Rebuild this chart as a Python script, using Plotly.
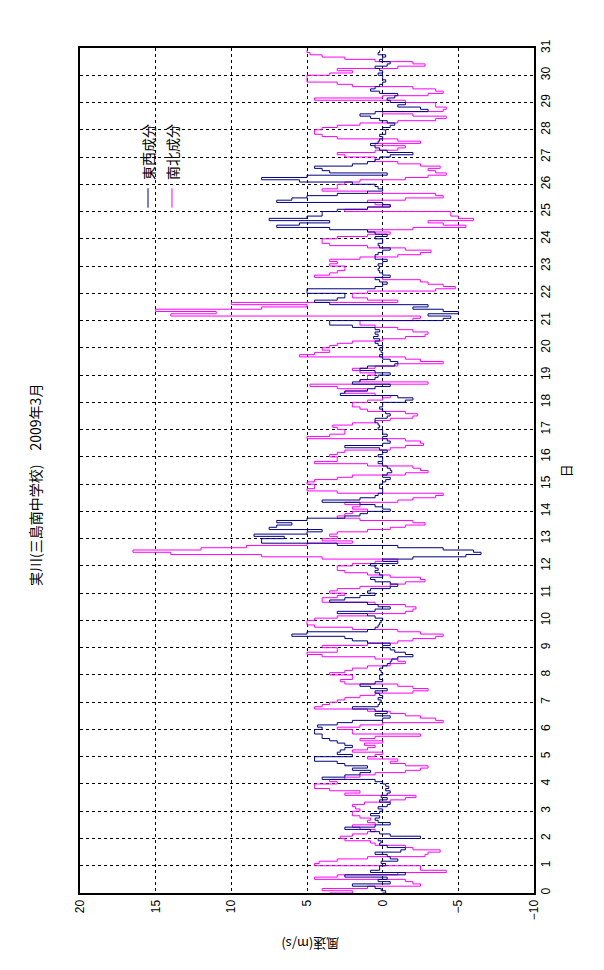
import numpy as np
import plotly.graph_objects as go

# Samples every 2 hours (12 per day), March 2009, wind components in m/s
ew_by_day = [
    [0, -0.2, 0.1, 0.5, 2.0, -0.5, 0.3, -0.3, 2.5, -1.5, 0.8, 0.2],
    [0.2, -0.2, 0.1, -1.0, -0.5, -0.3, 0.5, -1.2, -1.5, -0.3, 0.2, 0.1],
    [0.3, -2.5, -0.5, 0.2, 0.8, 2.5, 0.5, -0.5, 0.3, 0.5, 0.2, 0.8],
    [0.2, 0.0, 0.3, -0.3, -0.5, 0.2, -0.3, 0.1, -0.3, -0.5, -0.2, -0.4],
    [-0.2, 0.0, 0.5, 4.0, 2.5, 1.5, 0.8, 2.0, 1.0, 2.5, 3.0, 4.5],
    [4.5, 2.0, 3.0, 2.8, 2.5, 2.0, 2.5, 3.0, 3.5, 4.0, 4.0, 4.5],
    [4.5, 4.0, 4.3, 3.0, 2.0, 0.0, -0.5, 0.5, -0.3, 0.5, 2.0, 0.3],
    [0.2, 0.1, 0.3, 0.0, 0.2, 0.5, -0.3, 0.8, 1.5, 0.5, 0.0, 0.2],
    [0.2, 0.0, 0.1, 0.2, 0.0, -0.3, -0.5, -0.6, -1.0, -2.0, -1.5, -0.8],
    [-0.5, 0.0, -0.5, 1.0, 2.0, 2.5, 6.0, 5.0, 1.0, 0.5, 0.3, 0.2],
    [0.1, 0.0, 0.5, 1.0, 3.0, 0.5, -0.5, 0.3, 1.0, 3.5, 2.5, 1.5],
    [0.5, 1.0, 0.8, -0.5, -1.0, -0.5, 0.5, 0.8, 0.0, 0.2, 0.5, 0.3],
    [0.5, 0.8, -1.0, 0.0, -2.0, -5.5, -6.5, -6.0, -4.0, -1.0, 3.0, 8.0],
    [8.0, 6.5, 8.5, 5.0, 4.0, 7.5, 7.0, 6.0, 7.0, 5.0, 2.5, 1.5],
    [1.0, -0.5, 0.0, 0.5, 1.5, 4.0, 1.5, 0.5, 0.3, 0.0, 0.0, 0.2],
    [0.2, 0.0, -0.2, -0.5, 0.0, -0.3, -0.6, -0.5, -0.3, 0.0, 0.3, 0.0],
    [0.0, 0.3, 0.0, -0.3, 0.2, 2.5, 0.0, -0.5, -0.3, 0.0, -0.3, 0.0],
    [0.0, 0.3, 0.2, 0.3, 0.5, 0.5, -0.3, -0.5, -0.2, 0.0, 0.2, 0.0],
    [0.0, -1.5, -2.0, -1.0, 2.8, 2.5, 1.0, 0.5, -0.5, 2.0, 1.5, 0.5],
    [0.3, -0.5, 0.5, 1.5, 1.0, -0.8, -1.0, -0.5, 0.0, 0.2, 0.0, 0.1],
    [0.2, 0.0, 0.3, 0.5, 0.2, 0.6, 0.3, 0.5, 0.2, 0.5, 2.0, 3.5],
    [3.5, -4.0, -4.5, -3.0, -5.0, -4.0, -2.0, -3.0, 3.5, 4.5, 3.0, 2.5],
    [2.5, 5.0, 5.0, 0.5, 0.0, -0.3, 0.2, 0.5, -0.5, 0.0, 0.2, 0.3],
    [0.2, 0.3, 0.0, -0.3, 0.5, 0.5, 0.3, 0.0, -0.5, 0.2, 0.3, 0.0],
    [0.0, 0.5, -0.3, 0.5, 1.0, 3.5, 7.0, 5.5, 3.5, 7.5, 5.0, 4.0],
    [4.0, 3.0, 1.0, -0.5, 0.0, 7.0, 6.0, 5.0, 3.0, 1.0, 0.0, 0.3],
    [0.5, 2.0, 5.5, 8.0, 5.0, -0.3, 3.5, 4.0, 4.5, 2.0, 1.0, 0.5],
    [0.2, -0.5, -2.0, -0.3, 0.2, 0.5, 0.8, 0.3, 0.2, 0.0, 0.2, -0.2],
    [-0.2, 0.0, -0.5, -0.8, -0.3, 0.2, 0.8, 1.5, 0.5, -3.0, -2.5, -1.0],
    [-1.5, -0.5, -0.3, -0.8, -1.0, 0.2, 0.8, 0.5, 0.2, 0.0, -0.2, 0.0],
    [0.0, 0.3, 0.0, 0.2, 0.5, -0.3, -0.5, 0.2, 0.0, -0.2, 0.3, 0.2],
]

ns_by_day = [
    [3.5, 2.0, 4.0, 1.0, -2.5, -2.0, -1.5, 4.5, 3.0, -1.0, -4.2, -2.5],
    [-2.5, 4.5, 4.2, 3.0, 1.0, -2.8, -3.0, -3.8, -2.0, -1.5, 0.5, 0.8],
    [2.5, 2.8, 2.0, 1.0, 0.5, 1.5, 2.0, 0.5, 1.0, 0.8, 1.5, 2.0],
    [2.0, 1.5, 1.8, 2.0, 1.2, -0.5, -1.5, -2.2, 2.5, 1.5, 3.5, 4.5],
    [4.5, 3.0, 3.5, 2.5, 1.5, 0.5, -1.5, -2.5, -3.0, -1.5, -0.5, -1.0],
    [1.0, 0.5, 0.0, 2.0, 1.0, 0.5, 1.2, 0.0, 1.5, 0.5, -2.5, 2.0],
    [2.0, 3.0, 1.5, 0.0, -4.0, -3.5, -2.5, -1.5, -0.5, 1.0, 4.5, 4.0],
    [3.5, 3.0, 2.5, 1.5, 0.5, -2.0, -3.0, -2.0, -1.0, 2.5, 2.8, 2.0],
    [2.0, 3.5, 2.5, 2.0, 1.0, -0.5, -1.5, -1.0, 0.5, 4.0, 5.0, 3.0],
    [3.0, 4.0, 1.0, -1.0, -2.0, -3.5, -4.0, -2.5, -1.0, 2.0, 4.5, 5.0],
    [5.0, 4.5, 3.0, 1.0, -1.5, -2.0, -2.2, -1.5, 0.5, 4.0, 4.0, 3.0],
    [2.5, 3.5, 3.0, 1.5, -0.5, -1.5, -2.8, -2.5, -0.5, 1.0, 2.5, 3.0],
    [3.0, 2.0, 0.5, -1.0, 4.0, 8.0, 14.0, 16.5, 12.0, 9.0, 5.0, 2.0],
    [4.0, 3.0, 3.5, 3.0, 1.0, -0.5, -1.5, -2.8, -2.0, 1.5, 3.0, 2.5],
    [2.0, 1.0, 2.0, 1.5, 2.5, -1.0, -2.0, -3.5, -4.0, 3.0, 5.0, 4.5],
    [4.5, 5.0, 4.5, 3.0, 2.0, -1.5, -3.0, -2.5, -2.0, 1.0, 4.5, 3.0],
    [3.0, 3.5, 3.0, 2.5, -0.5, -1.5, -2.7, -2.5, -1.5, 5.0, 3.5, 2.5],
    [2.5, 3.0, 3.3, 2.0, 0.5, -0.5, -2.0, -2.3, -1.5, 1.0, 1.5, 2.0],
    [2.0, 1.0, 0.0, -0.5, 0.5, 2.5, 1.0, 3.0, 4.8, -3.0, 1.5, 1.0],
    [1.0, 0.5, 1.5, 2.0, 0.5, -1.0, -4.0, -2.5, -1.5, 5.5, 4.5, 3.5],
    [4.0, 3.5, 3.0, 2.0, 0.0, -1.5, -2.8, -3.0, -2.0, -1.0, 0.5, 1.5],
    [1.5, -2.0, -2.5, 14.0, 11.0, 15.0, 8.0, 5.0, 10.0, -1.0, 1.0, 2.0],
    [2.0, 1.0, -3.5, -4.8, -4.0, -3.0, -2.5, 0.0, 4.5, 3.5, 3.0, 2.5],
    [2.5, 3.5, 3.0, 3.5, 1.5, -1.0, -2.5, -3.2, -1.5, 1.0, 3.5, 4.0],
    [4.0, 3.0, 1.0, -0.5, 1.0, -2.0, -5.5, -4.0, -3.0, -6.0, -5.0, -4.5],
    [-4.5, 2.5, 1.0, -0.5, 0.5, 1.0, -1.5, -4.0, -3.5, 1.0, 4.0, 3.0],
    [3.0, 2.5, 1.5, -1.5, -3.0, -4.2, -3.5, -3.0, -3.8, -2.5, -1.0, 0.5],
    [0.5, 2.5, 3.0, 0.5, -1.0, -1.5, 0.5, -2.5, -1.0, 3.0, 4.0, 4.5],
    [4.5, 4.0, 3.0, 1.5, -1.0, -3.5, -4.2, -2.0, 0.0, -4.0, -4.2, -3.5],
    [-3.5, -1.5, 4.5, 0.0, -3.0, -4.0, -3.5, -2.0, 2.0, 3.0, 5.0, 5.0],
    [5.0, 3.5, 2.0, 3.0, -1.0, -2.8, -2.0, 0.5, 2.5, 4.0, 4.8, 5.0],
]

day_ticks = list(range(0, 32))
speed_ticks = [-10, -5, 0, 5, 10, 15, 20]
series_names = ["東西成分", "南北成分"]
series_colors = ["#000080", "#ff00ff"]
title_text = "実川(三島南中学校)　2009年3月"

ew = [v for day in ew_by_day for v in day]
ns = [v for day in ns_by_day for v in day]
samples_per_day = len(ew_by_day[0])
t = np.arange(len(ew)) / samples_per_day

cjk = "Noto Sans CJK JP"
num_font = "Liberation Sans"

fig = go.Figure()
fig.add_trace(go.Scatter(x=ns, y=t, mode="lines", line=dict(color=series_colors[1], width=1, shape="hv"),
                         name=series_names[1], showlegend=False))
fig.add_trace(go.Scatter(x=ew, y=t, mode="lines", line=dict(color=series_colors[0], width=1, shape="hv"),
                         name=series_names[0], showlegend=False))

axis_common = dict(showgrid=True, gridcolor="black", griddash="3px,3px", gridwidth=1, zeroline=False,
                   showline=True, linecolor="black", linewidth=2, mirror=True, ticks="",
                   automargin=False, tickangle=-90,
                   tickfont=dict(family=num_font, size=12, color="black"))
fig.update_xaxes(range=[20, -10], tickvals=speed_ticks, **axis_common)
fig.update_yaxes(range=[0, 31], tickvals=day_ticks, side="right", **axis_common)

def ann(text, x, y, angle, size):
    return dict(text=text, x=x, y=y, xref="paper", yref="paper", showarrow=False,
                xanchor="center", yanchor="middle", textangle=angle,
                font=dict(family=cjk, size=size, color="black"))

annotations = [
    ann(title_text, -0.099, 0.483, -90, 14),
    ann("風速(m/s)", 0.507, -0.061, 180, 13),
    ann("日", 1.07, 0.5, -90, 13),
]
shapes = []
leg_x = [0.1498, 0.2026]
for i in range(2):
    shapes.append(dict(type="line", xref="paper", yref="paper", x0=leg_x[i], x1=leg_x[i],
                       y0=0.811, y1=0.834, line=dict(color=series_colors[i], width=1)))
    annotations.append(ann(series_names[i], leg_x[i], 0.877, -90, 14))

# page body adds an 8px offset; margins compensate so the frame sits at x 80-534, y 48-893
fig.update_layout(width=604, height=970, margin=dict(l=72, r=78, t=40, b=85),
                  plot_bgcolor="white", paper_bgcolor="white", showlegend=False,
                  annotations=annotations, shapes=shapes)
fig.write_html("out.html")
